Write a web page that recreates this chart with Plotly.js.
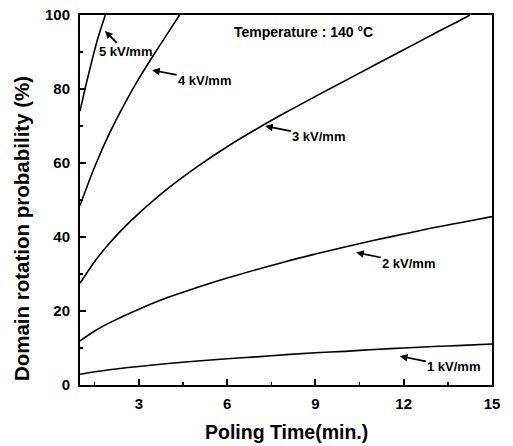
<!DOCTYPE html>
<html>
<head>
<meta charset="utf-8">
<script src="https://cdn.plot.ly/plotly-3.0.1.min.js"></script>
<style>html,body{margin:0;padding:0;background:#fff;}#chart{width:513px;height:446px;}</style>
</head>
<body>
<div id="chart"></div>
<script>
// Poling time (min.) and domain rotation probability (%)
const t1kV = [1, 1.5, 2, 2.5, 3, 4, 5, 6, 7, 8, 9, 10, 11, 12, 13, 14, 15];
const p1kV = [2.9, 3.6, 4.1, 4.6, 5.0, 5.8, 6.5, 7.1, 7.6, 8.2, 8.7, 9.1, 9.6, 10.0, 10.4, 10.7, 11.1];

const t2kV = [1, 1.5, 2, 2.5, 3, 4, 5, 6, 7, 8, 9, 10, 11, 12, 13, 14, 15];
const p2kV = [11.9, 14.6, 16.8, 18.7, 20.5, 23.7, 26.4, 28.9, 31.2, 33.4, 35.4, 37.3, 39.1, 40.8, 42.5, 44.0, 45.5];

const t3kV = [1, 1.5, 2, 2.5, 3, 4, 5, 6, 7, 8, 9, 10, 11, 12, 13, 14, 14.25];
const p3kV = [27.5, 33.4, 38.3, 42.6, 46.4, 53.2, 59.1, 64.4, 69.2, 73.7, 78.0, 82.2, 86.4, 90.6, 94.8, 98.9, 100];

const t4kV = [1, 1.5, 2, 2.5, 3, 3.5, 4, 4.38];
const p4kV = [48.5, 59.0, 68.0, 75.8, 82.8, 89.2, 95.3, 100];

const t5kV = [1, 1.2, 1.4, 1.6, 1.86];
const p5kV = [74, 81, 87.5, 93.5, 100];

const seriesNames = ['1 kV/mm', '2 kV/mm', '3 kV/mm', '4 kV/mm', '5 kV/mm'];
const xTickVals = [3, 6, 9, 12, 15];
const yTickVals = [0, 20, 40, 60, 80, 100];

// label arrow tips (data coords) for each curve
const labelTipX = [11.87, 10.38, 7.29, 3.45, 1.85];
const labelTipY = [7.8, 35.8, 70, 85.1, 95.7];

const xs = [t1kV, t2kV, t3kV, t4kV, t5kV];
const ys = [p1kV, p2kV, p3kV, p4kV, p5kV];

const traces = xs.map((x, i) => ({
  x: x, y: ys[i], name: seriesNames[i], type: 'scatter', mode: 'lines',
  line: {color: '#000', width: 1.6, shape: 'spline', smoothing: 1}, showlegend: false
}));

const fontFam = 'Liberation Sans, Arial, sans-serif';
const labelOffsets = [[54, 10.7], [52.8, 10.6], [53.7, 10.7], [52.5, 10], [20.5, 21]];

const annotations = seriesNames.map((n, i) => ({
  x: labelTipX[i], y: labelTipY[i], xref: 'x', yref: 'y',
  text: n, showarrow: true, arrowhead: 2, arrowsize: 0.9, arrowwidth: 1.7, arrowcolor: '#000',
  ax: labelOffsets[i][0], ay: labelOffsets[i][1],
  font: {family: fontFam, size: 13, color: '#000', weight: 'bold'}
}));
annotations.push({
  x: 8.61, y: 95.4, xref: 'x', yref: 'y', showarrow: false,
  text: 'Temperature : 140 °C', font: {family: fontFam, size: 14, color: '#000', weight: 'bold'}
});
annotations.push({
  x: 0.5, y: -0.127, xref: 'paper', yref: 'paper', showarrow: false,
  xanchor: 'center', yanchor: 'middle',
  text: 'Poling Time(min.)', font: {family: fontFam, size: 19.5, color: '#000', weight: 'bold'}
});
annotations.push({
  x: -0.143, y: 0.4216, xref: 'paper', yref: 'paper', showarrow: false,
  xanchor: 'center', yanchor: 'middle', textangle: -90,
  text: 'Domain rotation probability (%)', font: {family: fontFam, size: 20.5, color: '#000', weight: 'bold'}
});

const layout = {
  width: 513, height: 446,
  margin: {l: 80, r: 21, t: 15, b: 61},
  paper_bgcolor: '#fff', plot_bgcolor: '#fff',
  showlegend: false,
  xaxis: {
    range: [1, 15], tickvals: xTickVals, ticktext: xTickVals.map(String),
    ticks: 'inside', ticklen: 6, tickwidth: 2, tickcolor: '#000',
    minor: {dtick: 1.5, tick0: 0, ticks: 'inside', ticklen: 3, tickwidth: 1.5, tickcolor: '#000'},
    showline: true, linewidth: 2, linecolor: '#000', mirror: true,
    showgrid: false, zeroline: false, ticklabelstandoff: 4,
    tickfont: {family: fontFam, size: 15, color: '#000', weight: 'bold'}
  },
  yaxis: {
    range: [0, 100], tickvals: yTickVals, ticktext: yTickVals.map(String),
    ticks: 'inside', ticklen: 6, tickwidth: 2, tickcolor: '#000',
    minor: {dtick: 10, tick0: 0, ticks: 'inside', ticklen: 3, tickwidth: 1.5, tickcolor: '#000'},
    showline: true, linewidth: 2, linecolor: '#000', mirror: true,
    showgrid: false, zeroline: false, ticklabelstandoff: 5,
    tickfont: {family: fontFam, size: 15, color: '#000', weight: 'bold'}
  },
  annotations: annotations
};

Plotly.newPlot('chart', traces, layout, {displayModeBar: false, staticPlot: true});
</script>
</body>
</html>
